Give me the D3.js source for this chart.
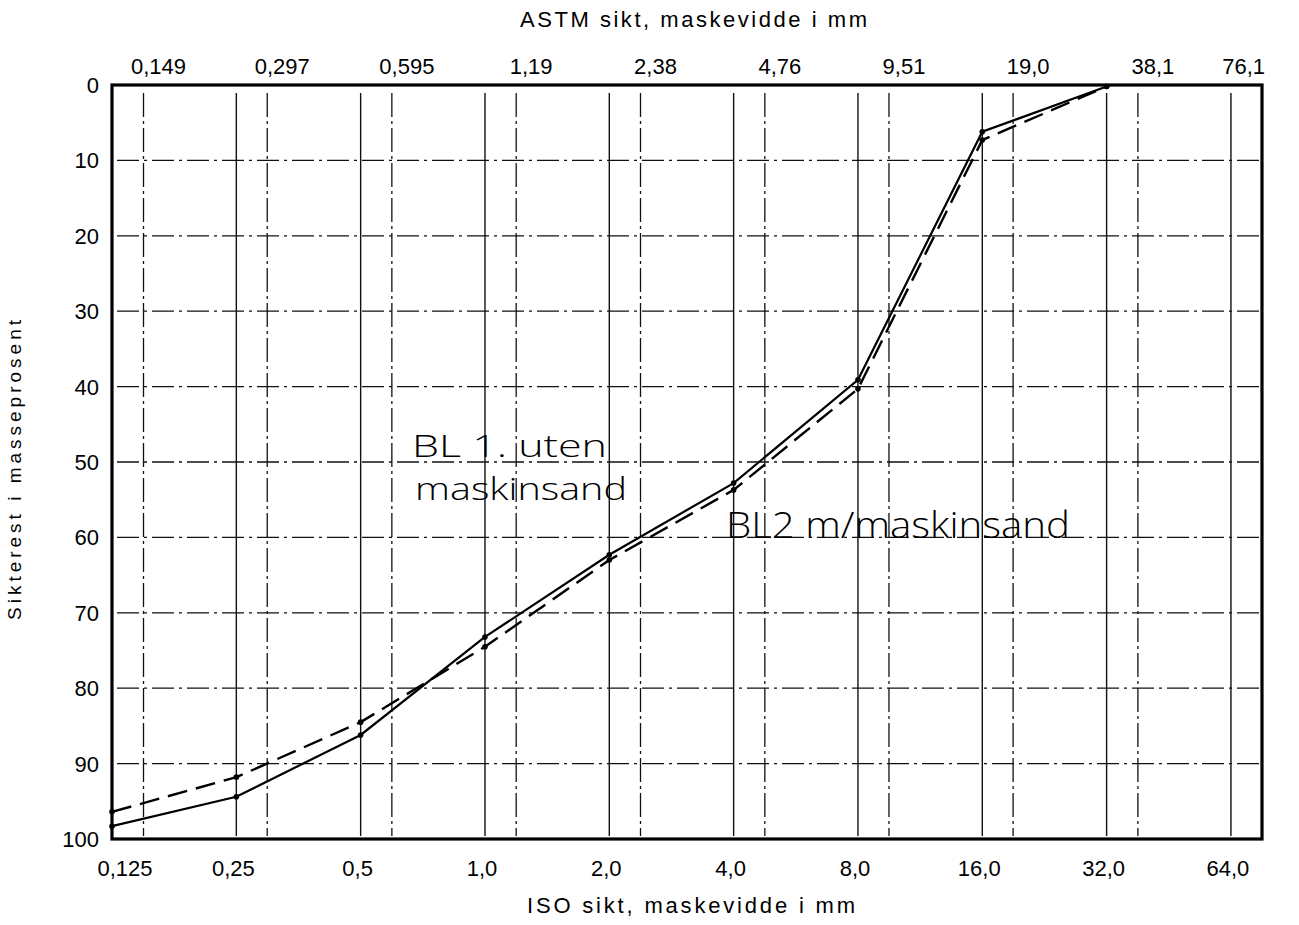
<!DOCTYPE html>
<html><head><meta charset="utf-8">
<script src="https://cdn.jsdelivr.net/npm/d3@7"></script>
<style>
html,body{margin:0;padding:0;background:#fff;}
svg{display:block;}
</style></head>
<body>
<svg id="c" width="1299" height="925"></svg>
<script>
// ---- data ----
const isoSieves = [0.125, 0.25, 0.5, 1.0, 2.0, 4.0, 8.0, 16.0, 32.0, 64.0];
const isoLabels = ["0,125", "0,25", "0,5", "1,0", "2,0", "4,0", "8,0", "16,0", "32,0", "64,0"];
const astmSieves = [0.149, 0.297, 0.595, 1.19, 2.38, 4.76, 9.51, 19.0, 38.1, 76.1];
const astmLabels = ["0,149", "0,297", "0,595", "1,19", "2,38", "4,76", "9,51", "19,0", "38,1", "76,1"];
const yTicks = [0, 10, 20, 30, 40, 50, 60, 70, 80, 90, 100];
const sampleSieves = [0.125, 0.25, 0.5, 1.0, 2.0, 4.0, 8.0, 16.0, 32.0];
const bl1 = [98.3, 94.4, 86.2, 73.2, 62.3, 52.8, 39.1, 6.2, 0.2];   // BL 1. uten maskinsand (solid)
const bl2 = [96.4, 91.8, 84.5, 74.5, 63.0, 53.7, 40.3, 7.3, 0.2];   // BL2 m/maskinsand (dashed)

const svg = d3.select("#c");
const font = "'Liberation Sans', Arial, Helvetica, sans-serif";
const hand = "'Open Sans', 'Noto Sans', sans-serif";

const x = d3.scaleLog().base(2).domain([0.125, 76.1]).range([112, 1262]);
const y = d3.scaleLinear().domain([0, 100]).range([85, 839]);
const [x0, x1] = x.range(), [y0, y1] = y.range();

// horizontal grid (dash-dot)
svg.append("g").selectAll("line").data(yTicks.filter(d => d > 0 && d < 100)).join("line")
  .attr("x1", x0 + 5).attr("x2", x1).attr("y1", d => y(d)).attr("y2", d => y(d))
  .attr("stroke", "#111").attr("stroke-width", 1.3).attr("stroke-dasharray", "22,5,3,5");

// vertical ISO grid (solid)
svg.append("g").selectAll("line").data(isoSieves.slice(1)).join("line")
  .attr("x1", d => x(d)).attr("x2", d => x(d)).attr("y1", y0 + 8).attr("y2", y1 - 3)
  .attr("stroke", "#111").attr("stroke-width", 1.4);

// vertical ASTM grid (dash-dot)
svg.append("g").selectAll("line").data(astmSieves.slice(0, -1)).join("line")
  .attr("x1", d => x(d)).attr("x2", d => x(d)).attr("y1", y0 + 8).attr("y2", y1 - 3)
  .attr("stroke", "#111").attr("stroke-width", 1.3).attr("stroke-dasharray", "24,4,3,4");

// frame
svg.append("rect").attr("x", x0).attr("y", y0).attr("width", x1 - x0).attr("height", y1 - y0)
  .attr("fill", "none").attr("stroke", "#000").attr("stroke-width", 3.2);

// y tick labels
svg.append("g").selectAll("text").data(yTicks).join("text")
  .attr("x", x0 - 13).attr("y", d => y(d) + 8)
  .attr("text-anchor", "end").attr("font-family", font).attr("font-size", 22)
  .text(d => d);

// bottom ISO labels
svg.append("g").selectAll("text").data(isoSieves).join("text")
  .attr("x", (d, i) => x(d) + (i === 0 ? 13 : -3)).attr("y", 876)
  .attr("text-anchor", "middle").attr("font-family", font).attr("font-size", 22)
  .text((d, i) => isoLabels[i]);

// top ASTM labels
svg.append("g").selectAll("text").data(astmSieves).join("text")
  .attr("x", (d, i) => i === astmSieves.length - 1 ? x(d) + 3 : x(d) + 15)
  .attr("y", 74)
  .attr("text-anchor", (d, i) => i === astmSieves.length - 1 ? "end" : "middle")
  .attr("font-family", font).attr("font-size", 22)
  .text((d, i) => astmLabels[i]);

// axis titles
svg.append("text").attr("x", 520).attr("y", 27)
  .attr("font-family", font).attr("font-size", 22)
  .attr("textLength", 347).attr("lengthAdjust", "spacing")
  .text("ASTM sikt, maskevidde i mm");
svg.append("text").attr("x", 527).attr("y", 913)
  .attr("font-family", font).attr("font-size", 22)
  .attr("textLength", 328).attr("lengthAdjust", "spacing")
  .text("ISO sikt, maskevidde i mm");
svg.append("text").attr("transform", "translate(21,620) rotate(-90)")
  .attr("font-family", font).attr("font-size", 19)
  .attr("textLength", 300).attr("lengthAdjust", "spacing")
  .text("Sikterest i masseprosent");

// series
const line = d3.line().x(d => x(d[0])).y(d => y(d[1]));
const s1 = sampleSieves.map((s, i) => [s, bl1[i]]);
const s2 = sampleSieves.map((s, i) => [s, bl2[i]]);
svg.append("path").datum(s1).attr("d", line).attr("fill", "none")
  .attr("stroke", "#000").attr("stroke-width", 2.2);
svg.append("path").datum(s2).attr("d", line).attr("fill", "none")
  .attr("stroke", "#000").attr("stroke-width", 2.4).attr("stroke-dasharray", "20,9");
svg.append("g").selectAll("circle").data(s1.concat(s2)).join("circle")
  .attr("cx", d => x(d[0])).attr("cy", d => y(d[1])).attr("r", 2.8).attr("fill", "#000");

// handwritten annotations
const ann = svg.append("g").attr("font-family", hand).attr("font-weight", 300).attr("fill", "#000");
ann.append("text").attr("x", 412).attr("y", 457).attr("font-size", 32)
  .attr("textLength", 195).attr("lengthAdjust", "spacingAndGlyphs").text("BL 1. uten");
ann.append("text").attr("x", 415).attr("y", 500).attr("font-size", 31)
  .attr("textLength", 212).attr("lengthAdjust", "spacingAndGlyphs").text("maskinsand");
ann.append("text").attr("x", 726).attr("y", 538).attr("font-size", 36)
  .attr("textLength", 344).attr("lengthAdjust", "spacingAndGlyphs").text("BL2 m/maskinsand");
</script>
</body></html>
